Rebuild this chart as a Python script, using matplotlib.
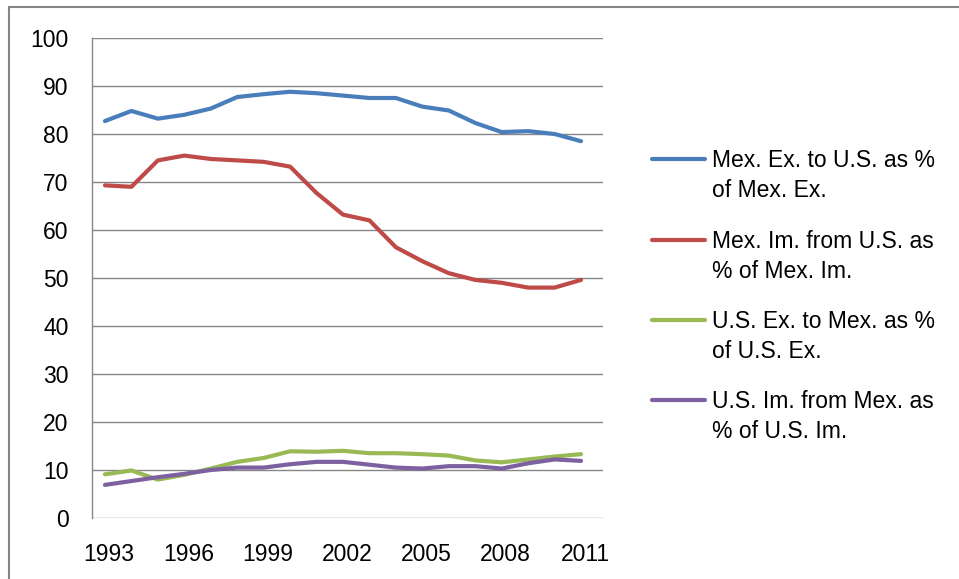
import matplotlib
matplotlib.use("Agg")
import matplotlib.pyplot as plt
import matplotlib.transforms as mtransforms
from matplotlib.lines import Line2D
from matplotlib.patches import Rectangle

years = list(range(1993, 2012))
mex_ex_to_us = [82.7, 84.8, 83.2, 84.0, 85.3, 87.7, 88.3, 88.8, 88.5, 88.0,
                87.5, 87.5, 85.7, 84.9, 82.3, 80.4, 80.6, 80.0, 78.5]
mex_im_from_us = [69.3, 69.0, 74.5, 75.5, 74.8, 74.5, 74.2, 73.2, 67.7, 63.2,
                  62.0, 56.4, 53.5, 51.0, 49.6, 49.0, 48.0, 48.0, 49.6]
us_ex_to_mex = [9.1, 9.9, 8.0, 9.0, 10.3, 11.7, 12.5, 13.9, 13.8, 14.0,
                13.5, 13.5, 13.3, 13.0, 12.0, 11.6, 12.2, 12.8, 13.3]
us_im_from_mex = [6.9, 7.7, 8.5, 9.2, 10.0, 10.5, 10.5, 11.2, 11.7, 11.7,
                  11.1, 10.5, 10.3, 10.8, 10.8, 10.3, 11.4, 12.2, 11.9]
labels = [("Mex. Ex. to U.S. as %", "of Mex. Ex."),
          ("Mex. Im. from U.S. as", "% of Mex. Im."),
          ("U.S. Ex. to Mex. as %", "of U.S. Ex."),
          ("U.S. Im. from Mex. as", "% of U.S. Im.")]
colors = ["#4A7EBB", "#BE4B48", "#98B954", "#7D60A0"]
series = [mex_ex_to_us, mex_im_from_us, us_ex_to_mex, us_im_from_mex]

plt.rcParams["font.family"] = ["Liberation Sans", "DejaVu Sans"]
FS = 16.5

W, H = 959, 579
fig = plt.figure(figsize=(W / 100, H / 100), dpi=100)
ax = fig.add_axes([92 / W, (H - 518) / H, (603 - 92) / W, (518 - 38) / H])

x = list(range(len(years)))
for s, c in zip(series, colors):
    ax.plot(x, s, color=c, lw=3.0, solid_capstyle="round",
            solid_joinstyle="round", zorder=3)

ax.set_xlim(-0.49, len(years) - 1 + 0.83)
ax.set_ylim(0, 100)
ax.set_yticks(range(0, 101, 10))
ax.set_xticks(x[::3])
ax.set_xticklabels([str(y) for y in years[::3]])
ax.tick_params(axis="both", length=0, labelsize=FS, colors="#000000")
ax.tick_params(axis="y", pad=17)
ax.tick_params(axis="x", pad=18)
offset = mtransforms.ScaledTranslation(4 / 100, 0, fig.dpi_scale_trans)
for lbl in ax.get_xticklabels():
    lbl.set_transform(lbl.get_transform() + offset)
ax.grid(axis="y", color="#868686", lw=1.0, zorder=0)
for sp in ["top", "right", "bottom"]:
    ax.spines[sp].set_visible(False)
ax.spines["left"].set_color("#868686")
ax.spines["left"].set_linewidth(1.0)

# legend drawn in figure pixel coordinates
ys = [159, 240, 320, 400]
for (l1, l2), c, yy in zip(labels, colors, ys):
    fy = (H - yy) / H
    fig.add_artist(Line2D([652 / W, 705 / W], [fy, fy], color=c, lw=3.0,
                          solid_capstyle="round", transform=fig.transFigure))
    fig.text(712 / W, (H - yy - 8) / H, l1, fontsize=FS, va="baseline", ha="left")
    fig.text(712 / W, (H - yy - 38) / H, l2, fontsize=FS, va="baseline", ha="left")

fig.add_artist(Rectangle((9 / W, -10 / H), (W + 20) / W, (H - 7 + 10) / H,
                         transform=fig.transFigure, fill=False,
                         edgecolor="#868686", lw=1.5, clip_on=False))

fig.savefig("out.png", dpi=100)
